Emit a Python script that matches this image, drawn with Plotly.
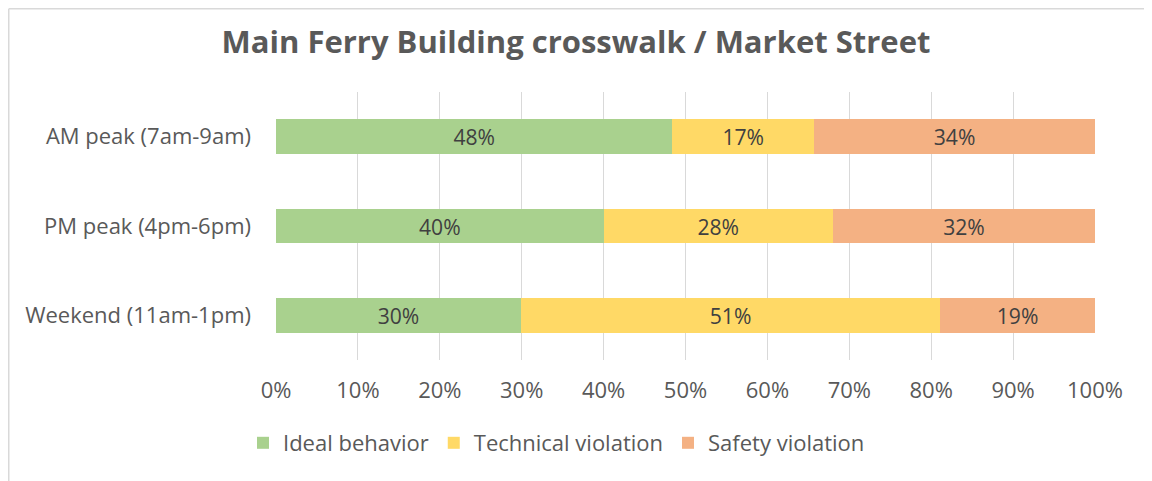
import plotly.graph_objects as go

categories = ["AM peak (7am-9am)", "PM peak (4pm-6pm)", "Weekend (11am-1pm)"]
ideal = [48.4, 40.0, 29.9]
technical = [17.3, 28.0, 51.2]
safety = [34.3, 32.0, 18.9]
series_names = ["Ideal behavior", "Technical violation", "Safety violation"]
colors = ["#A9D18E", "#FFD966", "#F4B183"]
x_ticks = list(range(0, 101, 10))
x_tick_labels = [f"{v}%" for v in x_ticks]

# page body has an 8px margin -> figure drawn at offset (8, 8)
OFF = 8
W, H = 1152 - OFF, 481 - OFF
L, T = 276 - OFF, 92 - OFF
pw, ph = 819, 268
R, B = W - L - pw, H - T - ph
FONT = "Open Sans, Noto Sans, sans-serif"


def px_x(x_win):
    return (x_win - OFF - L) / pw


def px_y(y_win):
    return (T + ph - (y_win - OFF)) / ph


fig = go.Figure()
for name, vals, col in zip(series_names, [ideal, technical, safety], colors):
    fig.add_trace(go.Bar(
        y=categories, x=vals, name=name, orientation="h",
        marker=dict(color=col, line=dict(width=0)),
        text=[f"{round(v)}%" for v in vals],
        textposition="inside", insidetextanchor="middle",
        textfont=dict(family=FONT, size=22, color="#404040"),
        hoverinfo="skip",
    ))

x_left = -L / pw + 0.75 / pw
y_top = (ph + T - 0.75) / ph
fig.update_layout(
    width=W, height=H,
    barmode="stack", bargap=0.61,
    margin=dict(l=L, r=R, t=T, b=B, autoexpand=False),
    paper_bgcolor="white", plot_bgcolor="white",
    title=dict(text="<b>Main Ferry Building crosswalk / Market Street</b>",
               x=(576 - OFF) / W, xref="container", xanchor="center",
               y=1 - (42 - OFF) / H, yref="container", yanchor="middle",
               font=dict(family=FONT, size=31, color="#595959")),
    font=dict(family=FONT, size=22, color="#595959"),
    xaxis=dict(range=[0, 100], tickmode="array", tickvals=x_ticks, ticktext=x_tick_labels,
               showgrid=True, gridcolor="#D9D9D9", gridwidth=1,
               zeroline=False, showline=False, ticks="", automargin=False,
               ticklabelstandoff=15,
               tickfont=dict(family=FONT, size=22, color="#595959")),
    yaxis=dict(categoryorder="array", categoryarray=categories[::-1],
               showgrid=False, zeroline=False, showline=False, ticks="", automargin=False,
               ticklabelstandoff=24,
               tickfont=dict(family=FONT, size=22, color="#595959")),
    legend=dict(orientation="h", x=px_x(283 - 40), xanchor="left",
                y=px_y(443), yanchor="middle",
                font=dict(family=FONT, size=22, color="#595959"),
                traceorder="normal", itemwidth=30, tracegroupgap=0),
    showlegend=True,
    shapes=[
        dict(type="line", xref="paper", yref="paper",
             x0=x_left, x1=x_left, y0=-B / ph, y1=y_top,
             line=dict(color="#D9D9D9", width=1.5), layer="below"),
        dict(type="line", xref="paper", yref="paper",
             x0=x_left, x1=(W - L) / pw, y0=y_top, y1=y_top,
             line=dict(color="#D9D9D9", width=1.5), layer="below"),
    ],
    uniformtext=dict(mode="show", minsize=10),
)

fig.write_html("out.html")
